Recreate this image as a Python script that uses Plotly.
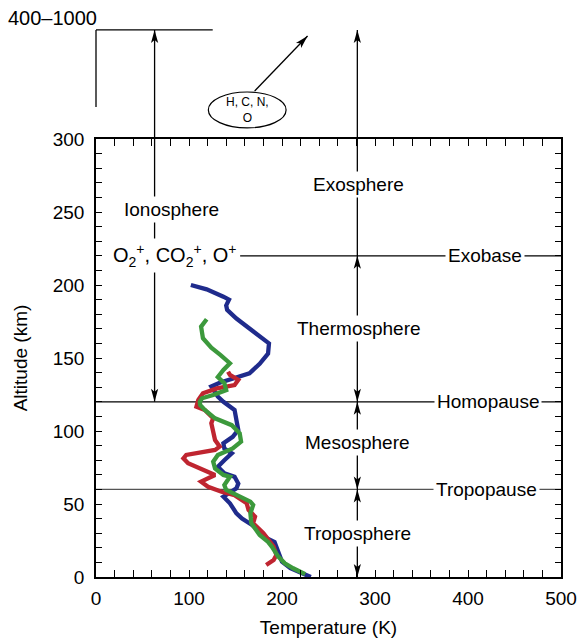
import math
import plotly.graph_objects as go

# ---------------- data (altitude km, temperature K) ----------------
blue_alt = [200, 197, 192, 190, 186, 183, 177, 168, 160, 153, 146, 139.5, 136, 133, 130.5, 127,
            123.5, 120, 117.8, 114.4, 107.5, 100.7, 96, 91.6, 88, 84.7, 80, 75.5, 71, 68.7, 64,
            60.7, 57, 55, 50.5, 43.6, 40, 36, 30, 26.5, 24, 17, 10.5, 6, 3.6, 1.5, 0]
blue_T = [102, 119, 137, 143, 140, 141, 151, 169, 186, 185, 176, 165, 147, 133, 124, 128,
          131, 137, 142, 149, 151, 153, 147, 137, 138, 146, 138, 131, 138, 149, 153,
          151, 142, 137, 144, 151, 157, 167, 178, 184, 192, 196, 200, 209, 219, 227, 231]

green_alt = [176.5, 171.5, 163.5, 157, 152, 146.4, 141.8, 137, 132.7, 128, 124.7, 122.4, 120,
             117.8, 114.4, 108.7, 104, 98.4, 92.7, 88, 83.6, 79, 74.4, 69.9, 68.7, 63, 59.6,
             56, 51.6, 49.3, 43.6, 36.8, 28.8, 24, 20.8, 14, 9.4, 6, 3.6, 2]
green_T = [119, 113, 115, 124, 134, 144, 137, 131, 138, 140, 126, 114, 111.6,
           112, 117, 128, 146, 154.5, 156, 147, 131, 126, 128, 137, 144, 138, 140,
           151, 166, 169, 166, 167, 176, 185, 189, 196, 203, 212, 221, 225]

red_alt = [140.6, 138.4, 135, 131.5, 129.2, 125.8, 121.2, 116.7, 114.4, 108.7, 105.3, 99.5,
           93.8, 89.3, 87, 83.6, 81.3, 77.9, 73.3, 69.9, 65.3, 61.8, 58.4, 56, 50.5, 46,
           41.3, 36.8, 30, 24, 20.8, 15, 11.6, 8.2]
red_T = [142, 144, 153, 149, 130, 115, 110, 108, 117, 126, 124, 126,
         128, 133, 128, 97, 94, 99, 117, 128, 113, 120.5, 135, 149, 162, 164,
         171, 169, 180, 187, 191, 194, 191, 183]

x_ticks = [0, 100, 200, 300, 400, 500]
y_ticks = [0, 50, 100, 150, 200, 250, 300]

# boundaries (km)
tropopause, homopause, exobase = 60, 120, 220
top_level = 374.7       # altitude-equivalent of the "400-1000" bar above the frame
col_right_T = 281       # K, position of the right-hand arrow column
col_iono_T = 63         # K, position of the ionosphere arrow

# ---------------- geometry helpers ----------------
W, H = 582, 640
ML, MR, MT, MB = 96, 21, 139, 63
PW, PH = W - ML - MR, H - MT - MB
XMAX, YMAX = 500, 300
FONT = "Liberation Sans, Arial, Helvetica, sans-serif"


def px(T):
    return T / XMAX


def py(a):
    return a / YMAX


shapes = []
annotations = []


def line(T0, a0, T1, a1, color="black", width=1.3, layer="above"):
    shapes.append(dict(type="line", xref="paper", yref="paper",
                       x0=px(T0), y0=py(a0), x1=px(T1), y1=py(a1),
                       line=dict(color=color, width=width), layer=layer))


def head(T, a, ux, uy, L=13, Wd=3.6, notch=3):
    n = math.hypot(ux, uy)
    ux, uy = ux / n, uy / n
    nx, ny = -uy, ux
    pts = [(0, 0), (-L * ux + Wd * nx, -L * uy + Wd * ny),
           (-(L - notch) * ux, -(L - notch) * uy),
           (-L * ux - Wd * nx, -L * uy - Wd * ny)]
    path = "M " + " L ".join(f"{px(T) + dx / PW:.5f},{py(a) + dy / PH:.5f}" for dx, dy in pts) + " Z"
    shapes.append(dict(type="path", xref="paper", yref="paper", path=path,
                       fillcolor="black", line=dict(width=0), layer="above"))


def label(text, T, a, size=19, bg="white", pad=2):
    annotations.append(dict(text=text, xref="paper", yref="paper", x=px(T), y=py(a),
                            showarrow=False, xanchor="center", yanchor="middle",
                            font=dict(size=size, color="black", family=FONT),
                            bgcolor=bg, borderpad=pad))


# horizontal boundaries
line(155, exobase, XMAX, exobase, layer="below")
line(0, homopause, XMAX, homopause, layer="below")
line(0, tropopause, XMAX, tropopause, color="#555555", layer="below")

# right arrow column
line(col_right_T, 0, col_right_T, top_level)
head(col_right_T, top_level, 0, 1)
for lo, hi in [(0, tropopause), (tropopause, homopause), (homopause, exobase)]:
    head(col_right_T, hi, 0, 1)
    head(col_right_T, lo, 0, -1)

# ionosphere arrow
line(col_iono_T, homopause, col_iono_T, top_level)
head(col_iono_T, top_level, 0, 1)
head(col_iono_T, homopause, 0, -1)

# 400-1000 bracket above frame
line(0, 322, 0, top_level)
line(0, top_level, 125.5, top_level)

# ellipse with escaping species
shapes.append(dict(type="circle", xref="paper", yref="paper",
                   x0=px(120.8), x1=px(204.4), y0=py(307.6), y1=py(332.2),
                   line=dict(color="black", width=1.2), fillcolor="rgba(0,0,0,0)"))
e0 = (170.6, 332.9)
e1 = (227.5, 370.5)
line(e0[0], e0[1], e1[0], e1[1])
head(e1[0], e1[1], (e1[0] - e0[0]) / XMAX * PW, (e1[1] - e0[1]) / YMAX * PH)

# labels
label("Exosphere", 282, 268.5)
label("Thermosphere", 283, 170.5)
label("Mesosphere", 281, 91.8)
label("Troposphere", 281, 30.1)
label("Ionosphere", 81.5, 251.4)
label("O<sub>2</sub><sup>+</sup>, CO<sub>2</sub><sup>+</sup>, O<sup>+</sup>", 85, 220.5, size=20)
label("Exobase", 418, exobase)
label("Homopause", 422, homopause)
label("Tropopause", 420, tropopause)
label("H, C, N,<br>O", 162.6, 319.9, size=12, bg="rgba(0,0,0,0)", pad=0)
annotations.append(dict(text="400\u20131000", xref="paper", yref="paper",
                        x=px(-47), y=py(383), showarrow=False, xanchor="center",
                        yanchor="middle", font=dict(size=20, color="black", family=FONT)))

fig = go.Figure()
for T, a, c in [(blue_T, blue_alt, "#1f2b8c"), (red_T, red_alt, "#bf2530"),
                (green_T, green_alt, "#3c993c")]:
    fig.add_trace(go.Scatter(x=T, y=a, mode="lines", line=dict(color=c, width=4.3),
                             showlegend=False, hoverinfo="skip"))

axis_common = dict(showline=True, linecolor="black", linewidth=1.5, mirror="ticks",
                   ticks="inside", tickcolor="black", tickwidth=1.2, showgrid=False,
                   zeroline=False, automargin=False,
                   tickfont=dict(size=19, color="black", family=FONT))
fig.update_xaxes(range=[0, XMAX], tickvals=x_ticks, ticklen=7, ticklabelstandoff=3,
                 minor=dict(dtick=20, ticks="inside", ticklen=7, tickcolor="black", tickwidth=1.2),
                 title=dict(text="Temperature (K)", font=dict(size=19, color="black", family=FONT),
                            standoff=13),
                 **axis_common)
fig.update_yaxes(range=[0, YMAX], tickvals=y_ticks, ticklen=6, ticklabelstandoff=6,
                 minor=dict(dtick=10, ticks="inside", ticklen=6, tickcolor="black", tickwidth=1.2),
                 title=dict(text="Altitude (km)", font=dict(size=19, color="black", family=FONT),
                            standoff=20),
                 **axis_common)
fig.update_layout(width=W, height=H, margin=dict(l=ML, r=MR, t=MT, b=MB),
                  plot_bgcolor="white", paper_bgcolor="white",
                  shapes=shapes, annotations=annotations,
                  font=dict(family=FONT, color="black"))
fig.write_html("out.html")
